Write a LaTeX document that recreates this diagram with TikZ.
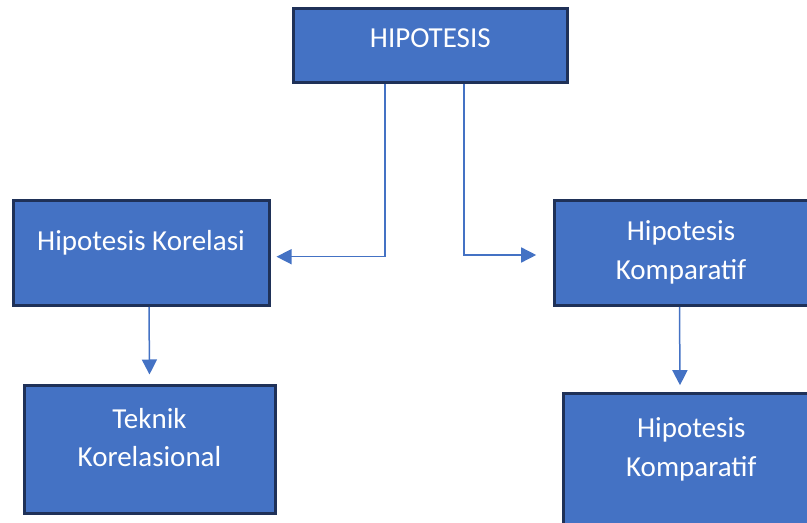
\documentclass[tikz,border=0pt]{standalone}
\usepackage{fontspec}
\setmainfont{Carlito}
\usetikzlibrary{arrows.meta}
\definecolor{boxblue}{HTML}{4472C4}
\definecolor{boxedge}{HTML}{1F3158}
\tikzset{
  box/.style={draw=boxedge, line width=1.5pt, fill=boxblue, text=white,
    align=center, inner sep=0pt},
  conn/.style={draw=boxblue, line width=0.75pt,
    -{Triangle[length=7.5pt, width=7.5pt]}},
}

\begin{document}
\begin{tikzpicture}[x=0.5pt, y=-0.5pt, font=\fontsize{14.5}{19.3}\selectfont]
  \useasboundingbox (0,0) rectangle (807,523);
  % top: main hypothesis
  \node[box, minimum width=137pt, minimum height=37pt, text depth=7.9pt]
    (hip) at (430.3,46) {HIPOTESIS};
  % second row
  \node[box, minimum width=128pt, minimum height=52.5pt, text depth=12.1pt]
    (kor) at (141,253) {Hipotesis Korelasi};
  \node[box, minimum width=127pt, minimum height=52.5pt, text depth=3.2pt]
    (kom) at (681,253) {Hipotesis\\Komparatif};
  % third row
  \node[box, minimum width=125.5pt, minimum height=64pt, text depth=11.7pt]
    (tek) at (149.5,449) {Teknik\\Korelasional};
  \node[box, minimum width=128pt, minimum height=70pt, text depth=16pt]
    (kom2) at (691.3,463) {Hipotesis\\Komparatif};
  % elbow connectors from the top box
  \draw[conn] ([shift={(-45.3,0)}]hip.south) |- ([shift={(6,3.7)}]kor.east);
  \draw[conn] ([shift={(33.7,0)}]hip.south) |- ([shift={(-16.3,2)}]kom.west);
  % straight connectors down
  \draw[conn] ([shift={(8,0)}]kor.south) -- ([shift={(0,-9)}]tek.north);
  \draw[conn] ([shift={(-1.5,0)}]kom.south) -- ([shift={(-11.3,-6.3)}]kom2.north);
\end{tikzpicture}
\end{document}
